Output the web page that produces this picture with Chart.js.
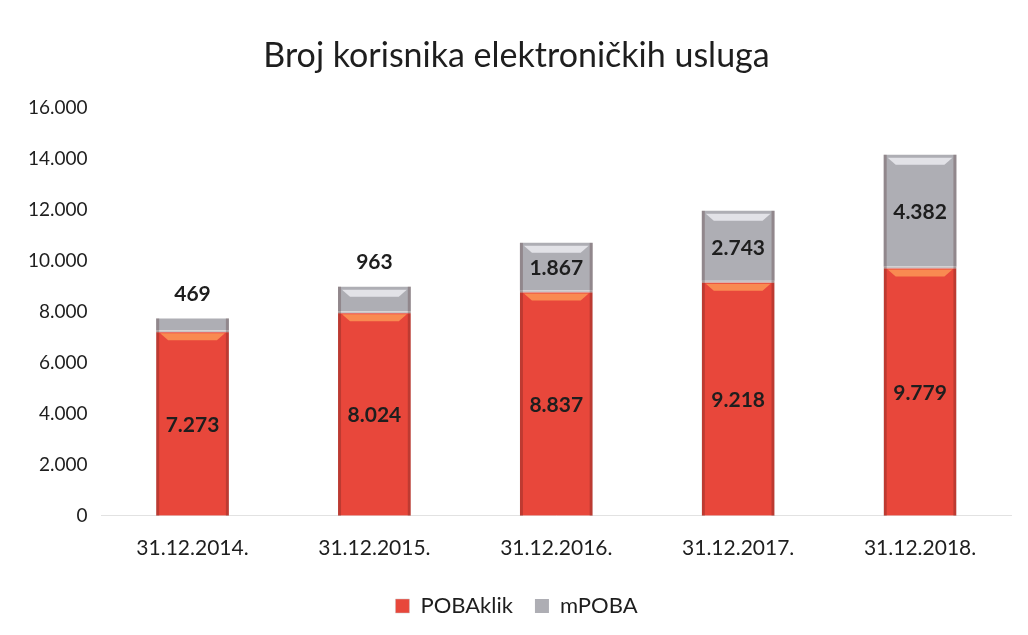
<!DOCTYPE html>
<html>
<head>
<meta charset="utf-8">
<script src="https://cdn.jsdelivr.net/npm/chart.js@4.4.1/dist/chart.umd.min.js"></script>
<style>
  html, body { margin: 0; padding: 0; background: #fff; }
  #wrap { width: 1028px; height: 635px; }
</style>
</head>
<body>
<div id="wrap"><canvas id="korisnici"></canvas></div>
<script>
const categories = ['31.12.2014.', '31.12.2015.', '31.12.2016.', '31.12.2017.', '31.12.2018.'];
const pobaKlik = [7273, 8024, 8837, 9218, 9779];
const mPoba = [469, 963, 1867, 2743, 4382];
const yTicks = [0, 2000, 4000, 6000, 8000, 10000, 12000, 14000, 16000];

const FONT = 'Lato, "Open Sans", sans-serif';

// 12345 -> "12.345"
function fmt(v) {
    return String(v).replace(/\B(?=(\d{3})+(?!\d))/g, '.');
}

// bevel-ish highlight + value labels
const barLook = {
    id: 'barLook',
    afterDatasetsDraw(chart) {
        const c = chart.ctx;
        chart.data.datasets.forEach((ds, i) => {
            const meta = chart.getDatasetMeta(i);
            meta.data.forEach((bar, j) => {
                const left = bar.x - bar.width / 2;
                const top = Math.min(bar.y, bar.base);
                const h = Math.abs(bar.base - bar.y);
                c.save();
                // dark side edges
                c.fillStyle = 'rgba(60,20,20,0.25)';
                c.fillRect(left, top, 3, h);
                c.fillRect(left + bar.width - 3, top, 3, h);
                // top highlight
                if (h > 12) {
                    c.fillStyle = ds.shine;
                    c.beginPath();
                    c.moveTo(left + 4, top + 3);
                    c.lineTo(left + bar.width - 4, top + 3);
                    c.lineTo(left + bar.width - 12, top + 10);
                    c.lineTo(left + 12, top + 10);
                    c.closePath();
                    c.fill();
                }
                // label
                c.font = 'bold 21px ' + FONT;
                c.fillStyle = '#1e1e1e';
                c.textAlign = 'center';
                c.textBaseline = 'middle';
                const val = ds.data[j];
                if (h < 30) {
                    c.fillText(fmt(val), bar.x, top - 24);
                } else {
                    c.fillText(fmt(val), bar.x, top + h / 2 + 2);
                }
                c.restore();
            });
        });
    }
};

const ctx = document.getElementById('korisnici').getContext('2d');
const chart = new Chart(ctx, {
    type: 'bar',
    data: {
        labels: categories,
        datasets: [{
            label: 'POBAklik',
            data: pobaKlik,
            backgroundColor: '#e8473b',
            borderColor: '#c9c3c3',
            borderWidth: { top: 2, left: 0, right: 0, bottom: 0 },
            shine: 'rgba(255,160,90,0.75)'
        }, {
            label: 'mPOBA',
            data: mPoba,
            backgroundColor: '#aeaeb4',
            borderWidth: 0,
            shine: 'rgba(235,235,240,0.85)'
        }]
    },
    options: {
        responsive: true,
        maintainAspectRatio: false,
        animation: false,
        layout: { padding: { left: 22, right: 17, top: 0, bottom: 8 } },
        datasets: {
            bar: { barPercentage: 0.4, categoryPercentage: 1 }
        },
        plugins: {
            title: {
                display: true,
                text: 'Broj korisnika elektroničkih usluga',
                font: { family: FONT, size: 34, weight: 'normal' },
                color: '#1e1e1e',
                padding: { top: 36, bottom: 31 }
            },
            legend: {
                position: 'bottom',
                labels: {
                    font: { family: FONT, size: 22 },
                    color: '#1e1e1e',
                    boxWidth: 14,
                    boxHeight: 14,
                    padding: 22
                }
            },
            tooltip: { enabled: false }
        },
        scales: {
            x: {
                stacked: true,
                grid: { display: false },
                border: { color: '#e2e2e2' },
                ticks: {
                    font: { family: FONT, size: 21 },
                    color: '#1e1e1e',
                    padding: 12
                }
            },
            y: {
                stacked: true,
                min: 0,
                max: 16000,
                afterBuildTicks(axis) {
                    axis.ticks = yTicks.map(v => ({ value: v }));
                },
                grid: { display: false },
                border: { display: false },
                ticks: {
                    font: { family: FONT, size: 19 },
                    color: '#1e1e1e',
                    padding: 6,
                    callback: v => fmt(v)
                }
            }
        }
    },
    plugins: [barLook]
});
</script>
</body>
</html>
